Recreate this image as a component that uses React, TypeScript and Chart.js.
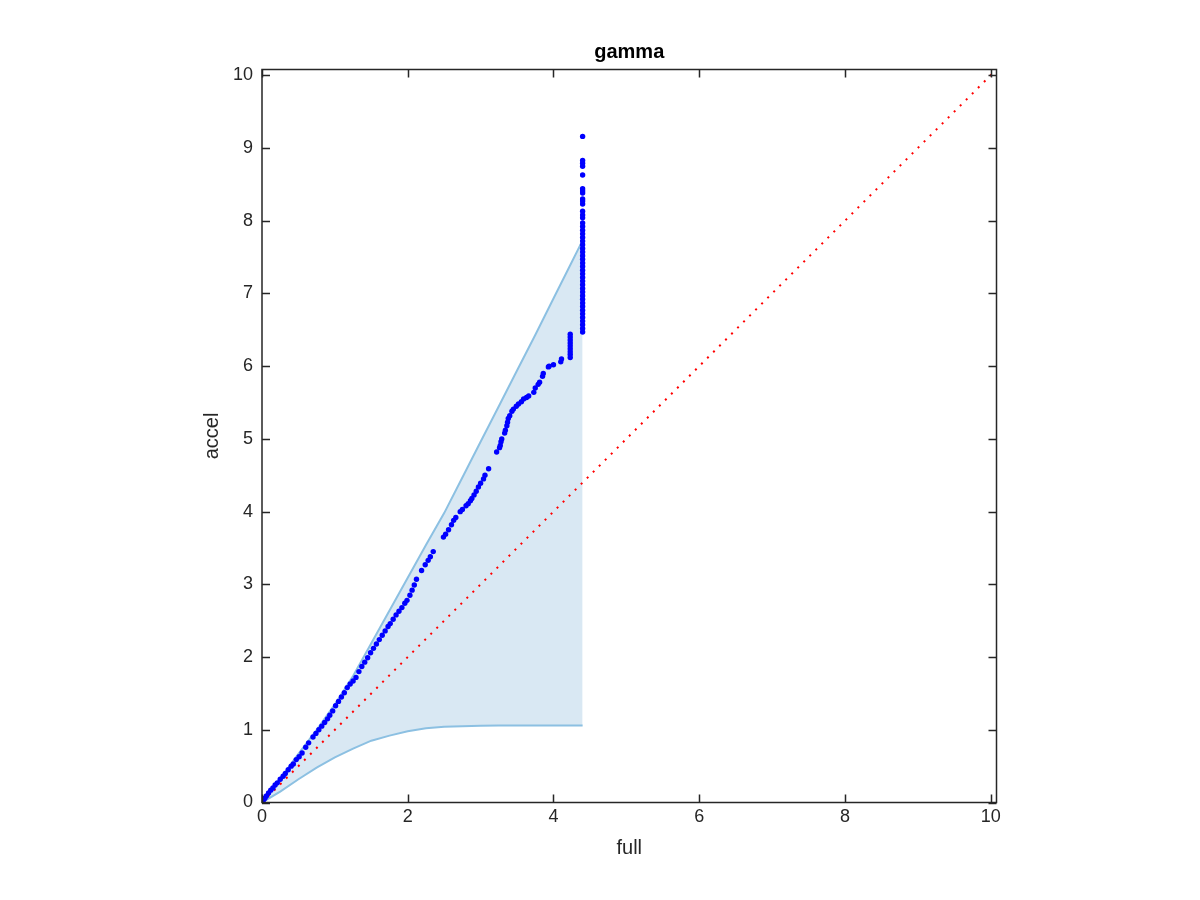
import React, { useEffect, useRef } from "react";
import { Chart, registerables } from "chart.js";

Chart.register(...registerables);

// ---- data ----
const axisMax = 10.08;
const xTickStep = 2;
const yTickStep = 1;

const bandX = [0, 0.25, 0.5, 0.75, 1.0, 1.25, 1.5, 1.75, 2.0, 2.25, 2.5, 2.75, 3.0, 3.25, 3.5, 3.75, 4.0, 4.2, 4.4];
const upperY = [0, 0.33, 0.67, 1.0, 1.35, 1.74, 2.19, 2.64, 3.09, 3.54, 3.98, 4.47, 4.96, 5.45, 5.94, 6.43, 6.93, 7.33, 7.73];
const lowerY = [0, 0.15, 0.32, 0.48, 0.62, 0.74, 0.85, 0.92, 0.98, 1.02, 1.04, 1.05, 1.055, 1.06, 1.06, 1.06, 1.06, 1.06, 1.06];

const diagX = [0, 10.08];
const diagY = [0, 10.08];

const pointsX = [
  0.0, 0.02, 0.04, 0.06, 0.09, 0.12, 0.15, 0.18, 0.21, 0.25, 0.29, 0.32, 0.36, 0.4, 0.43, 0.47, 0.51, 0.55,
  0.6, 0.64, 0.7, 0.74, 0.78, 0.82, 0.86, 0.9, 0.93, 0.97, 1.01, 1.05, 1.09, 1.13, 1.17, 1.21, 1.25, 1.29,
  1.33, 1.37, 1.41, 1.45, 1.49, 1.53, 1.57, 1.61, 1.65, 1.69, 1.73, 1.76, 1.8, 1.84, 1.88, 1.92, 1.96, 1.99,
  2.03, 2.06, 2.09, 2.12, 2.19, 2.24, 2.28, 2.31, 2.35, 2.49, 2.52, 2.56, 2.6, 2.63, 2.66, 2.72, 2.75, 2.8,
  2.83, 2.86, 2.88, 2.91, 2.94, 2.97, 3.0, 3.04, 3.06, 3.11, 3.22, 3.26, 3.27, 3.28, 3.29, 3.33, 3.34, 3.36,
  3.37, 3.38, 3.4, 3.43, 3.45, 3.49, 3.52, 3.56, 3.59, 3.63, 3.66, 3.73, 3.75, 3.79, 3.81, 3.85, 3.86, 3.93,
  3.94, 4.0, 4.1, 4.11,
  4.23, 4.23, 4.23, 4.23, 4.23, 4.23, 4.23, 4.23, 4.23,
  4.4, 4.4, 4.4, 4.4, 4.4, 4.4, 4.4, 4.4, 4.4, 4.4, 4.4, 4.4, 4.4, 4.4, 4.4, 4.4, 4.4, 4.4, 4.4, 4.4,
  4.4, 4.4, 4.4, 4.4, 4.4, 4.4, 4.4, 4.4, 4.4, 4.4, 4.4, 4.4, 4.4, 4.4, 4.4, 4.4, 4.4, 4.4, 4.4, 4.4,
  4.4, 4.4, 4.4, 4.4, 4.4,
];
const pointsY = [
  0.0, 0.03, 0.06, 0.09, 0.13, 0.17, 0.2, 0.24, 0.27, 0.32, 0.36, 0.4, 0.45, 0.5, 0.53, 0.59, 0.63, 0.68,
  0.76, 0.82, 0.9, 0.95, 1.0, 1.05, 1.1, 1.15, 1.2, 1.26, 1.33, 1.39, 1.45, 1.51, 1.58, 1.63, 1.67, 1.72,
  1.8, 1.87, 1.93, 1.99, 2.06, 2.12, 2.18, 2.24, 2.3, 2.36, 2.42, 2.46, 2.52, 2.58, 2.63, 2.68, 2.74, 2.78,
  2.85, 2.92, 2.99, 3.07, 3.19, 3.27, 3.33, 3.38, 3.45, 3.65, 3.69, 3.75, 3.82, 3.88, 3.92, 4.0, 4.03, 4.08,
  4.11, 4.15, 4.18, 4.23, 4.28, 4.34, 4.39, 4.45, 4.5, 4.59, 4.82, 4.88, 4.91, 4.96, 5.0, 5.08, 5.12, 5.18,
  5.23, 5.28, 5.32, 5.38, 5.41, 5.45, 5.48, 5.51, 5.55, 5.57, 5.59, 5.64, 5.7, 5.75, 5.78, 5.86, 5.9, 5.99,
  6.0, 6.02, 6.06, 6.1,
  6.12, 6.16, 6.2, 6.24, 6.28, 6.32, 6.36, 6.4, 6.44,
  6.47, 6.52, 6.57, 6.62, 6.67, 6.72, 6.77, 6.82, 6.87, 6.92, 6.97, 7.02, 7.07, 7.12, 7.17, 7.22, 7.27, 7.32, 7.37, 7.42,
  7.47, 7.52, 7.57, 7.62, 7.67, 7.72, 7.77, 7.82, 7.87, 7.92, 7.97, 8.04, 8.08, 8.13, 8.23, 8.27, 8.3, 8.38, 8.41, 8.44,
  8.63, 8.75, 8.79, 8.83, 9.16,
];

const titleText = "gamma";
const xLabel = "full";
const yLabel = "accel";

const FONT = "'Liberation Sans', Arial, Helvetica, sans-serif";
const AXIS_COLOR = "#262626";

const frameTicksPlugin = {
  id: "frameTicks",
  afterDraw(chart: any) {
    const { ctx, chartArea, scales } = chart;
    const { left, right, top, bottom } = chartArea;
    const xs = scales.x;
    const ys = scales.y;
    const tl = 8;
    ctx.save();
    ctx.strokeStyle = AXIS_COLOR;
    ctx.lineWidth = 1.5;
    ctx.strokeRect(left, top, right - left, bottom - top);
    ctx.beginPath();
    xs.ticks.forEach((t: any) => {
      const px = Math.round(xs.getPixelForValue(t.value)) + 0.5;
      ctx.moveTo(px, bottom);
      ctx.lineTo(px, bottom - tl);
      ctx.moveTo(px, top);
      ctx.lineTo(px, top + tl);
    });
    ys.ticks.forEach((t: any) => {
      const py = Math.round(ys.getPixelForValue(t.value)) + 0.5;
      ctx.moveTo(left, py);
      ctx.lineTo(left + tl, py);
      ctx.moveTo(right, py);
      ctx.lineTo(right - tl, py);
    });
    ctx.stroke();

    const cx = (left + right) / 2;
    const cy = (top + bottom) / 2;
    ctx.fillStyle = "#000";
    ctx.textAlign = "center";
    ctx.textBaseline = "middle";
    ctx.font = `bold 20px ${FONT}`;
    ctx.fillText(titleText, cx, 52);

    ctx.fillStyle = AXIS_COLOR;
    ctx.font = `20px ${FONT}`;
    ctx.fillText(xLabel, cx, 848);
    ctx.save();
    ctx.translate(212, cy);
    ctx.rotate(-Math.PI / 2);
    ctx.fillText(yLabel, 0, 0);
    ctx.restore();
    ctx.restore();
  },
};

export default function App() {
  const ref = useRef<HTMLCanvasElement | null>(null);

  useEffect(() => {
    if (!ref.current) return;
    const toXY = (xs: number[], ys: number[]) => xs.map((x, i) => ({ x, y: ys[i] }));
    const chart = new Chart(ref.current, {
      type: "scatter",
      data: {
        datasets: [
          {
            label: "accel",
            data: toXY(pointsX, pointsY),
            backgroundColor: "rgb(0,0,255)",
            borderColor: "rgb(0,0,255)",
            pointRadius: 2.7,
            pointBorderWidth: 0,
            showLine: false,
            order: 0,
          },
          {
            label: "diag",
            data: toXY(diagX, diagY),
            showLine: true,
            borderColor: "rgb(255,0,0)",
            borderWidth: 2,
            borderDash: [2, 6.5],
            pointRadius: 0,
            fill: false,
            order: 1,
          },
          {
            label: "upper",
            data: toXY(bandX, upperY),
            showLine: true,
            borderColor: "rgb(140,192,226)",
            borderWidth: 2,
            pointRadius: 0,
            backgroundColor: "rgb(217,232,243)",
            fill: "+1",
            order: 2,
          },
          {
            label: "lower",
            data: toXY(bandX, lowerY),
            showLine: true,
            borderColor: "rgb(140,192,226)",
            borderWidth: 2,
            pointRadius: 0,
            fill: false,
            order: 3,
          },
        ] as any,
      },
      options: {
        animation: false,
        responsive: false,
        devicePixelRatio: 1,
        layout: { padding: { left: 150, right: 203.5, top: 69.5, bottom: 30 } },
        plugins: {
          legend: { display: false },
          tooltip: { enabled: false },
          title: { display: false },
          filler: { drawTime: "beforeDatasetsDraw", propagate: false },
        },
        scales: {
          x: {
            type: "linear",
            min: 0,
            max: axisMax,
            grid: { display: false, drawTicks: false },
            border: { display: false },
            ticks: {
              stepSize: xTickStep,
              includeBounds: false,
              color: AXIS_COLOR,
              font: { family: FONT, size: 18 },
              padding: 4,
              maxRotation: 0,
            },
            afterFit: (s: any) => {
              s.height = 67.5;
            },
          },
          y: {
            type: "linear",
            min: 0,
            max: axisMax,
            grid: { display: false, drawTicks: false },
            border: { display: false },
            ticks: {
              stepSize: yTickStep,
              includeBounds: false,
              color: AXIS_COLOR,
              font: { family: FONT, size: 18 },
              padding: 9,
            },
            afterFit: (s: any) => {
              s.width = 112;
            },
          },
        },
      } as any,
      plugins: [frameTicksPlugin],
    });
    return () => chart.destroy();
  }, []);

  return (
    <div style={{ position: "fixed", left: 0, top: 0, width: 1200, height: 900, background: "#fff" }}>
      <canvas ref={ref} width={1200} height={900} style={{ display: "block" }} />
    </div>
  );
}
